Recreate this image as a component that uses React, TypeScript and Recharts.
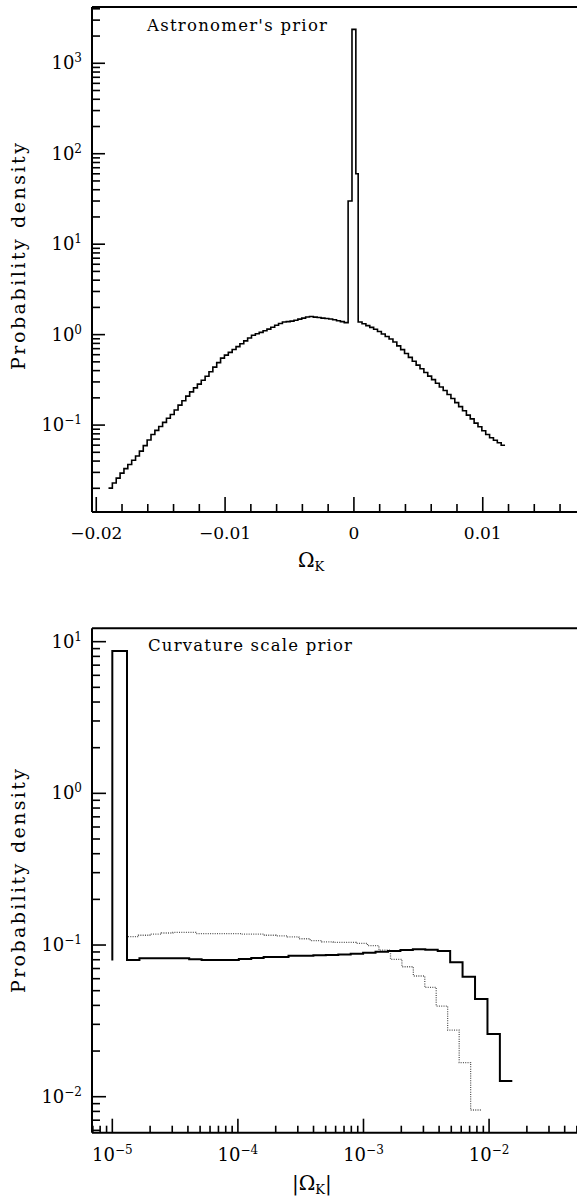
import React from 'react';
import { LineChart, Line, XAxis, YAxis } from 'recharts';

// ---- Astronomer's prior (top panel) ----
// histogram bins of width 0.0003 on either side of the central spike
const astroBinWidth = 0.0003;
const astroLeftStart = -0.01905;
const astroLeftDensity = [
  0.0201, 0.0229, 0.0259, 0.0294, 0.033, 0.0367, 0.0409, 0.0456, 0.0515, 0.0593,
  0.0684, 0.0787, 0.0873, 0.0966, 0.107, 0.119, 0.131, 0.147, 0.166, 0.186,
  0.209, 0.233, 0.258, 0.284, 0.313, 0.347, 0.389, 0.437, 0.49, 0.55,
  0.593, 0.637, 0.685, 0.736, 0.793, 0.853, 0.918, 0.984, 1.021, 1.059,
  1.102, 1.151, 1.208, 1.268, 1.33, 1.38, 1.393, 1.409, 1.442, 1.483,
  1.524, 1.567, 1.585, 1.563, 1.545, 1.524, 1.507, 1.486, 1.462, 1.426,
  1.393, 1.358,
];
const astroSpikeEdges = [-0.00045, -0.00015, 0.00015];
const astroSpikeDensity = [30, 2370, 60];
const astroRightStart = 0.00033;
const astroRightDensity = [
  1.38, 1.318, 1.259, 1.202, 1.148, 1.084, 1.016, 0.955, 0.895, 0.83,
  0.752, 0.682, 0.618, 0.561, 0.508, 0.46, 0.419, 0.382, 0.348, 0.318,
  0.29, 0.264, 0.241, 0.218, 0.197, 0.177, 0.16, 0.144, 0.129, 0.117,
  0.105, 0.0957, 0.0867, 0.0787, 0.0723, 0.0679, 0.0637, 0.0598,
];

const astroXMajor = [-0.02, -0.01, 0, 0.01];
const astroXMinor = [
  -0.018, -0.016, -0.014, -0.012, -0.008, -0.006, -0.004, -0.002,
  0.002, 0.004, 0.006, 0.008, 0.012, 0.014, 0.016, 0.018,
];
const astroYMajor = [0.1, 1, 10, 100, 1000];
const astroYMinor = [
  0.02, 0.03, 0.04, 0.05, 0.06, 0.07, 0.08, 0.09,
  0.2, 0.3, 0.4, 0.5, 0.6, 0.7, 0.8, 0.9,
  2, 3, 4, 5, 6, 7, 8, 9,
  20, 30, 40, 50, 60, 70, 80, 90,
  200, 300, 400, 500, 600, 700, 800, 900,
  2000, 3000, 4000,
];

// ---- Curvature scale prior (bottom panel) ----
const curvSolidEdges = [
  1e-5, 1.309e-5, 1.644e-5, 2.065e-5, 2.594e-5, 3.258e-5, 4.093e-5, 5.14e-5, 6.45e-5, 8.1e-5,
  1.017e-4, 1.277e-4, 1.603e-4, 2.014e-4, 2.529e-4, 3.177e-4, 3.99e-4, 5.01e-4, 6.3e-4, 7.91e-4,
  9.93e-4, 1.247e-3, 1.567e-3, 1.968e-3, 2.472e-3, 3.105e-3, 3.9e-3, 4.9e-3, 6.15e-3, 7.73e-3,
  9.71e-3, 1.219e-2, 1.531e-2,
];
const curvSolidStart = 0.079;
const curvSolid = [
  8.67, 0.0796, 0.0817, 0.0817, 0.0817, 0.0817, 0.0805, 0.0796, 0.0796, 0.0796,
  0.0808, 0.0822, 0.0834, 0.0834, 0.085, 0.085, 0.0855, 0.086, 0.0866, 0.0875,
  0.089, 0.0903, 0.0915, 0.0928, 0.0937, 0.0932, 0.0915, 0.0769, 0.0618, 0.0441,
  0.0259, 0.0127,
];
const curvDottedEdges = [
  1e-5, 1.309e-5, 1.615e-5, 1.991e-5, 2.458e-5, 3.034e-5, 3.741e-5, 4.613e-5, 5.689e-5, 7.031e-5,
  8.67e-5, 1.069e-4, 1.318e-4, 1.626e-4, 2.009e-4, 2.477e-4, 3.055e-4, 3.767e-4, 4.645e-4, 5.741e-4,
  7.079e-4, 8.73e-4, 1.076e-3, 1.327e-3, 1.641e-3, 2.023e-3, 2.495e-3, 3.076e-3, 3.793e-3, 4.677e-3,
  5.781e-3, 7.129e-3, 8.79e-3,
];
const curvDotted = [
  8.67, 0.1135, 0.116, 0.118, 0.12, 0.121, 0.121, 0.119, 0.119, 0.119,
  0.119, 0.118, 0.118, 0.116, 0.115, 0.113, 0.11, 0.107, 0.105, 0.104,
  0.104, 0.1025, 0.099, 0.0925, 0.0805, 0.0719, 0.0625, 0.0526, 0.0396, 0.0275,
  0.0168, 0.00817,
];

const curvXMajor = [1e-5, 1e-4, 1e-3, 1e-2];
const curvXMinor = [
  7e-6, 8e-6, 9e-6,
  2e-5, 3e-5, 4e-5, 5e-5, 6e-5, 7e-5, 8e-5, 9e-5,
  2e-4, 3e-4, 4e-4, 5e-4, 6e-4, 7e-4, 8e-4, 9e-4,
  2e-3, 3e-3, 4e-3, 5e-3, 6e-3, 7e-3, 8e-3, 9e-3,
  0.02, 0.03, 0.04, 0.05, 0.06,
];
const curvYMajor = [0.01, 0.1, 1, 10];
const curvYMinor = [
  0.006, 0.007, 0.008, 0.009,
  0.02, 0.03, 0.04, 0.05, 0.06, 0.07, 0.08, 0.09,
  0.2, 0.3, 0.4, 0.5, 0.6, 0.7, 0.8, 0.9,
  2, 3, 4, 5, 6, 7, 8, 9,
];

const FONT = '"DejaVu Serif", "Liberation Serif", serif';

// step histogram points: left edge of every bin, then the closing right edge
const histPoints = (edges: number[], vals: number[]) => {
  const pts = vals.map((v, i) => ({ x: edges[i], y: v }));
  pts.push({ x: edges[vals.length], y: vals[vals.length - 1] });
  return pts;
};

const astroPoints = [
  ...astroLeftDensity.map((v, i) => ({ x: astroLeftStart + i * astroBinWidth, y: v })),
  ...astroSpikeDensity.map((v, i) => ({ x: astroSpikeEdges[i], y: v })),
  ...astroRightDensity.map((v, i) => ({ x: astroRightStart + i * astroBinWidth, y: v })),
  {
    x: astroRightStart + astroRightDensity.length * astroBinWidth,
    y: astroRightDensity[astroRightDensity.length - 1],
  },
];

const solidPoints = [{ x: curvSolidEdges[0], y: curvSolidStart }, ...histPoints(curvSolidEdges, curvSolid)];
const dottedPoints = histPoints(curvDottedEdges, curvDotted);

const expText = (v: number) => {
  const e = Math.round(Math.log10(v));
  return e < 0 ? '\u2212' + Math.abs(e) : String(e);
};

const PowerText = ({ v }: { v: number }) => (
  <>
    10
    <tspan dy={-7} fontSize={12}>
      {expText(v)}
    </tspan>
  </>
);

const yTick = (majors: number[], majorLen: number) => (props: any) => {
  const { x, y, payload } = props;
  const major = majors.includes(payload.value);
  return (
    <g>
      <line x1={x} y1={y} x2={x + (major ? majorLen : 8)} y2={y} stroke="#000" strokeWidth={1.6} />
      {major && (
        <text x={x - 10} y={y + 6} textAnchor="end" fontFamily={FONT} fontSize={18} fill="#000">
          <PowerText v={payload.value} />
        </text>
      )}
    </g>
  );
};

const linXTick = (props: any) => {
  const { x, y, payload } = props;
  const v = payload.value;
  const major = astroXMajor.includes(v);
  const label = v < 0 ? '\u2212' + String(Math.abs(v)) : String(v);
  return (
    <g>
      <line x1={x} y1={y} x2={x} y2={y - (major ? 15 : 8)} stroke="#000" strokeWidth={1.6} />
      {major && (
        <text x={x} y={y + 27} textAnchor="middle" fontFamily={FONT} fontSize={17} fill="#000">
          {label}
        </text>
      )}
    </g>
  );
};

const logXTick = (props: any) => {
  const { x, y, payload } = props;
  const major = curvXMajor.includes(payload.value);
  return (
    <g>
      <line x1={x} y1={y} x2={x} y2={y - (major ? 14 : 7)} stroke="#000" strokeWidth={1.6} />
      {major && (
        <text x={x} y={y + 28} textAnchor="middle" fontFamily={FONT} fontSize={18} fill="#000">
          <PowerText v={payload.value} />
        </text>
      )}
    </g>
  );
};

const frame = { stroke: '#000', strokeWidth: 2 };

const App: React.FC = () => {
  return (
    <div style={{ position: 'absolute', left: 0, top: 0, width: 577, height: 1196, overflow: 'hidden', background: '#fff' }}>
      <div style={{ position: 'absolute', left: 0, top: 0 }}>
        <LineChart width={620} height={600} margin={{ top: 6, right: 28, bottom: 87, left: 91 }}>
          <XAxis
            type="number"
            dataKey="x"
            domain={[-0.02033, 0.01848]}
            allowDataOverflow
            ticks={[...astroXMinor, ...astroXMajor]}
            interval={0}
            height={1}
            tickSize={0}
            tickMargin={0}
            tickLine={false}
            axisLine={frame}
            tick={linXTick}
          />
          <XAxis xAxisId="top" orientation="top" type="number" domain={[-0.02033, 0.01848]} height={1} tick={false} tickLine={false} axisLine={frame} />
          <YAxis
            type="number"
            scale="log"
            domain={[0.01094, 4190]}
            allowDataOverflow
            ticks={[...astroYMinor, ...astroYMajor]}
            interval={0}
            width={1}
            tickSize={0}
            tickMargin={0}
            tickLine={false}
            axisLine={frame}
            tick={yTick(astroYMajor, 13)}
          />
          <Line data={astroPoints} dataKey="y" type="stepAfter" stroke="#000" strokeWidth={1.6} dot={false} isAnimationActive={false} />
        </LineChart>
      </div>
      <div style={{ position: 'absolute', left: 0, top: 600 }}>
        <LineChart width={620} height={596} margin={{ top: 27.3, right: 28, bottom: 62.3, left: 91 }}>
          <XAxis
            type="number"
            dataKey="x"
            scale="log"
            domain={[6.89e-6, 0.066]}
            allowDataOverflow
            ticks={[...curvXMinor, ...curvXMajor]}
            interval={0}
            height={1}
            tickSize={0}
            tickMargin={0}
            tickLine={false}
            axisLine={frame}
            tick={logXTick}
          />
          <XAxis xAxisId="top" orientation="top" type="number" scale="log" domain={[6.89e-6, 0.066]} height={1} tick={false} tickLine={false} axisLine={frame} />
          <YAxis
            type="number"
            scale="log"
            domain={[0.00579, 12.25]}
            allowDataOverflow
            ticks={[...curvYMinor, ...curvYMajor]}
            interval={0}
            width={1}
            tickSize={0}
            tickMargin={0}
            tickLine={false}
            axisLine={frame}
            tick={yTick(curvYMajor, 14)}
          />
          <Line data={dottedPoints} dataKey="y" type="stepAfter" stroke="#555" strokeWidth={1.3} strokeDasharray="1 1.3" dot={false} isAnimationActive={false} />
          <Line data={solidPoints} dataKey="y" type="stepAfter" stroke="#000" strokeWidth={2} dot={false} isAnimationActive={false} />
        </LineChart>
      </div>
      <svg width={577} height={1196} style={{ position: 'absolute', left: 0, top: 0, pointerEvents: 'none' }}>
        <g fontFamily={FONT} fill="#000">
          <text x={147} y={30.5} fontSize={16.5} textLength={180} lengthAdjust="spacing">
            Astronomer's prior
          </text>
          <text x={25} y={256.5} fontSize={19} textAnchor="middle" textLength={227} lengthAdjust="spacing" transform="rotate(-90 25 256.5)">
            Probability density
          </text>
          <text x={298} y={567} fontSize={20}>
            Ω<tspan dy={4} fontSize={13}>K</tspan>
          </text>
          <text x={148} y={651} fontSize={16.5} textLength={204} lengthAdjust="spacing">
            Curvature scale prior
          </text>
          <text x={25} y={881} fontSize={19} textAnchor="middle" textLength={224} lengthAdjust="spacing" transform="rotate(-90 25 881)">
            Probability density
          </text>
          <text x={292} y={1190} fontSize={20}>
            |Ω<tspan dy={4} fontSize={13}>K</tspan>
            <tspan dy={-4} fontSize={20}>|</tspan>
          </text>
        </g>
      </svg>
    </div>
  );
};

export default App;
